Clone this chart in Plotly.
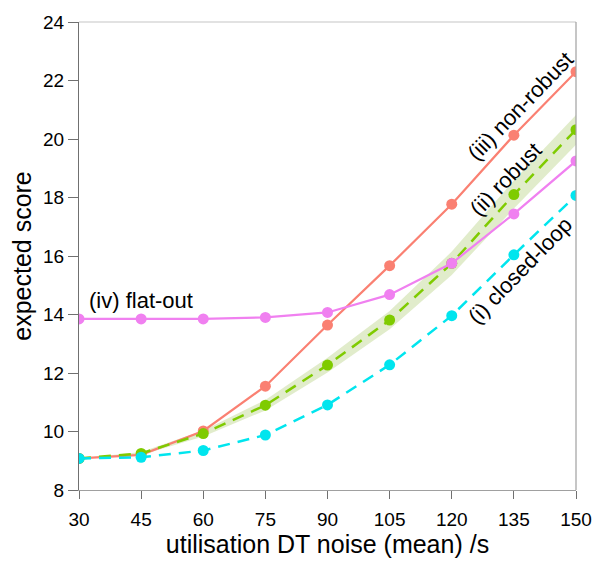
import plotly.graph_objects as go

x_vals = [30, 45, 60, 75, 90, 105, 120, 135, 150]
non_robust = [9.08, 9.2, 10.02, 11.55, 13.64, 15.67, 17.77, 20.13, 22.3]
robust = [9.08, 9.25, 9.93, 10.9, 12.27, 13.81, 15.75, 18.1, 20.32]
robust_lo = [9.08, 9.2, 9.83, 10.72, 12.02, 13.5, 15.35, 17.62, 19.8]
robust_hi = [9.08, 9.3, 10.03, 11.08, 12.52, 14.12, 16.15, 18.58, 20.82]
closed_loop = [9.08, 9.12, 9.35, 9.88, 10.91, 12.28, 13.96, 16.04, 18.07]
flat_out = [13.85, 13.85, 13.85, 13.9, 14.07, 14.68, 15.75, 17.44, 19.25]

x_ticks = [30, 45, 60, 75, 90, 105, 120, 135, 150]
y_ticks = [8, 10, 12, 14, 16, 18, 20, 22, 24]

FONT = "Liberation Sans, Arial, sans-serif"

fig = go.Figure()

# uncertainty band around robust
fig.add_trace(go.Scatter(x=x_vals, y=robust_hi, mode="lines", line=dict(width=0),
                         showlegend=False, hoverinfo="skip"))
fig.add_trace(go.Scatter(x=x_vals, y=robust_lo, mode="lines", line=dict(width=0),
                         fill="tonexty", fillcolor="rgba(200,220,160,0.55)",
                         showlegend=False, hoverinfo="skip"))

fig.add_trace(go.Scatter(x=x_vals, y=non_robust, mode="lines+markers",
                         line=dict(color="#FA8072", width=2.2),
                         marker=dict(color="#FA8072", size=11), name="non-robust"))
fig.add_trace(go.Scatter(x=x_vals, y=robust, mode="lines+markers",
                         line=dict(color="#7FCB00", width=2.5, dash="12px,8px"),
                         marker=dict(color="#7FCB00", size=11), name="robust"))
fig.add_trace(go.Scatter(x=x_vals, y=flat_out, mode="lines+markers",
                         line=dict(color="#F080F0", width=2.2),
                         marker=dict(color="#F080F0", size=11), name="flat-out"))
fig.add_trace(go.Scatter(x=x_vals, y=closed_loop, mode="lines+markers",
                         line=dict(color="#00E5EE", width=2.5, dash="12px,8px"),
                         marker=dict(color="#00E5EE", size=11), name="closed-loop"))

ann_font = dict(family=FONT, size=22, color="black")
fig.add_annotation(x=136.5, y=21.12, text="(iii) non-robust", showarrow=False,
                   textangle=-46, font=ann_font)
fig.add_annotation(x=133, y=18.61, text="(ii) robust", showarrow=False,
                   textangle=-46, font=ann_font)
fig.add_annotation(x=136.5, y=15.5, text="(i) closed-loop", showarrow=False,
                   textangle=-46, font=ann_font)
fig.add_annotation(x=31.9, y=14.49, text="(iv) flat-out", showarrow=False,
                   xanchor="left", font=ann_font)

# top border line (light)
fig.add_shape(type="line", xref="paper", yref="paper", x0=0, x1=1, y0=1, y1=1,
              line=dict(color="#D9D9D9", width=1.5))
# right border
fig.add_shape(type="line", xref="paper", yref="paper", x0=1, x1=1, y0=0, y1=1,
              line=dict(color="#A0A0A0", width=1.2))

fig.update_layout(
    width=604, height=561,
    margin=dict(l=79, r=18, t=14, b=69),
    plot_bgcolor="white", paper_bgcolor="white",
    showlegend=False,
    font=dict(family=FONT, color="black"),
    xaxis=dict(range=[30, 150], tickvals=x_ticks, ticktext=[str(v) for v in x_ticks],
               showgrid=False, zeroline=False, showline=True, linecolor="#A0A0A0",
               linewidth=1.2, ticks="outside", ticklen=8, tickcolor="#707070",
               tickfont=dict(size=19, family=FONT), ticklabelstandoff=4,
               title=dict(text="utilisation DT noise (mean) /s",
                          font=dict(size=25, family=FONT), standoff=2)),
    yaxis=dict(range=[8, 24], tickvals=y_ticks, ticktext=[str(v) for v in y_ticks],
               showgrid=False, zeroline=False, showline=True, linecolor="#707070",
               linewidth=1.2, ticks="outside", ticklen=10, tickcolor="#707070",
               tickfont=dict(size=19, family=FONT),
               title=dict(text="expected score", font=dict(size=25, family=FONT),
                          standoff=4)),
)

fig.write_html("out.html")
